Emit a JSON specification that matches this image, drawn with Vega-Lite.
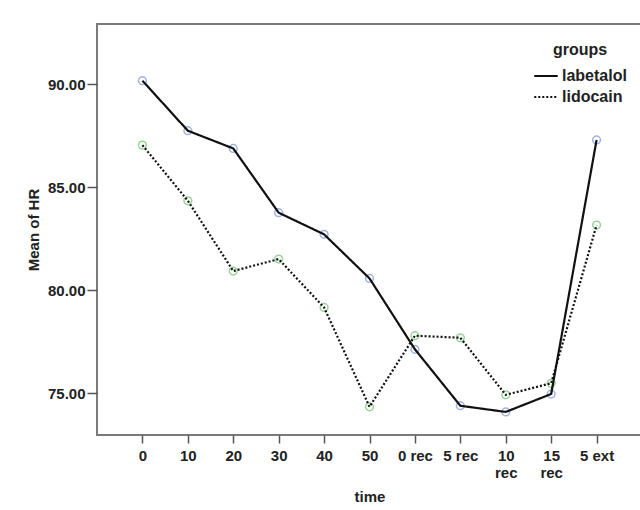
{
  "$schema": "https://vega.github.io/schema/vega-lite/v6.json",
  "width": 545,
  "height": 411,
  "autosize": {"type": "none"},
  "padding": {"left": 97, "top": 24, "right": 0, "bottom": 75},
  "background": "white",
  "config": {
    "font": "Liberation Sans",
    "view": {"stroke": "#7a7a7a", "strokeWidth": 2},
    "axis": {
      "domain": false,
      "grid": false,
      "labelFont": "Liberation Sans",
      "labelFontWeight": "bold",
      "labelFontSize": 15,
      "labelColor": "#222222",
      "titleFont": "Liberation Sans",
      "titleFontWeight": "bold",
      "titleFontSize": 15,
      "titleColor": "#222222",
      "tickColor": "#555555",
      "tickWidth": 1.5
    },
    "legend": {
      "titleFont": "Liberation Sans",
      "titleFontWeight": "bold",
      "titleFontSize": 16,
      "titleColor": "#222222",
      "labelFont": "Liberation Sans",
      "labelFontWeight": "bold",
      "labelFontSize": 16,
      "labelColor": "#222222"
    }
  },
  "data": {
    "values": [
      {"time": "0", "group": "labetalol", "hr": 90.18},
      {"time": "10", "group": "labetalol", "hr": 87.75},
      {"time": "20", "group": "labetalol", "hr": 86.89},
      {"time": "30", "group": "labetalol", "hr": 83.77},
      {"time": "40", "group": "labetalol", "hr": 82.72},
      {"time": "50", "group": "labetalol", "hr": 80.58},
      {"time": "0 rec", "group": "labetalol", "hr": 77.14},
      {"time": "5 rec", "group": "labetalol", "hr": 74.4},
      {"time": "10 rec", "group": "labetalol", "hr": 74.1},
      {"time": "15 rec", "group": "labetalol", "hr": 74.97},
      {"time": "5 ext", "group": "labetalol", "hr": 87.3},
      {"time": "0", "group": "lidocain", "hr": 87.05},
      {"time": "10", "group": "lidocain", "hr": 84.35},
      {"time": "20", "group": "lidocain", "hr": 80.94},
      {"time": "30", "group": "lidocain", "hr": 81.52},
      {"time": "40", "group": "lidocain", "hr": 79.17},
      {"time": "50", "group": "lidocain", "hr": 74.35},
      {"time": "0 rec", "group": "lidocain", "hr": 77.8},
      {"time": "5 rec", "group": "lidocain", "hr": 77.7},
      {"time": "10 rec", "group": "lidocain", "hr": 74.93},
      {"time": "15 rec", "group": "lidocain", "hr": 75.49},
      {"time": "5 ext", "group": "lidocain", "hr": 83.17}
    ]
  },
  "encoding": {
    "x": {
      "field": "time",
      "type": "nominal",
      "sort": ["0", "10", "20", "30", "40", "50", "0 rec", "5 rec", "10 rec", "15 rec", "5 ext"],
      "scale": {"type": "point", "padding": 1.114},
      "axis": {
        "title": "time",
        "labelAngle": 0,
        "tickSize": 8,
        "labelPadding": 5,
        "titlePadding": 9,
        "labelLineHeight": 17,
        "labelExpr": "datum.label == '10 rec' || datum.label == '15 rec' ? split(datum.label, ' ') : datum.label"
      }
    },
    "y": {
      "field": "hr",
      "type": "quantitative",
      "scale": {"domain": [72.98, 92.93], "nice": false, "zero": false},
      "axis": {
        "title": "Mean of HR",
        "values": [75, 80, 85, 90],
        "format": ".2f",
        "tickSize": 10,
        "labelPadding": 2,
        "titlePadding": 6
      }
    }
  },
  "layer": [
    {
      "transform": [{"filter": "datum.group == 'labetalol'"}],
      "mark": {"type": "point", "filled": false, "size": 60, "strokeWidth": 1.5, "color": "#7d90d8"}
    },
    {
      "transform": [{"filter": "datum.group == 'lidocain'"}],
      "mark": {"type": "point", "filled": false, "size": 60, "strokeWidth": 1.5, "color": "#6cc46c"}
    },
    {
      "mark": {"type": "line", "color": "#111111", "strokeWidth": 2.2},
      "encoding": {
        "strokeDash": {
          "field": "group",
          "type": "nominal",
          "scale": {"domain": ["labetalol", "lidocain"], "range": [[1, 0], [2, 2]]},
          "legend": {
            "title": "groups",
            "orient": "none",
            "legendX": 436,
            "legendY": 18,
            "titleAnchor": "middle",
            "symbolType": "stroke",
            "symbolStrokeColor": "#111111",
            "symbolStrokeWidth": 2,
            "symbolSize": 550,
            "rowPadding": -5,
            "labelOffset": 3,
            "titlePadding": 5
          }
        }
      }
    }
  ]
}
